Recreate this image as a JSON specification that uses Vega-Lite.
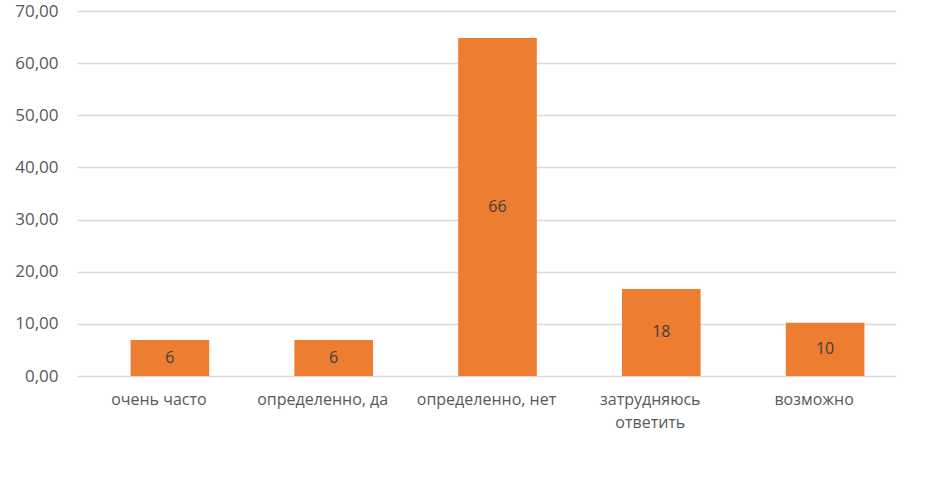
{
  "$schema": "https://vega.github.io/schema/vega-lite/v6.json",
  "width": 819,
  "height": 365,
  "autosize": "none",
  "padding": {"left": 77, "top": 11, "right": 42, "bottom": 111},
  "background": "white",
  "data": {
    "values": [
      {"category": "очень часто", "value": 6.9, "label": "6"},
      {"category": "определенно, да", "value": 6.9, "label": "6"},
      {"category": "определенно, нет", "value": 64.8, "label": "66"},
      {"category": "затрудняюсь ответить", "value": 16.7, "label": "18"},
      {"category": "возможно", "value": 10.2, "label": "10"}
    ]
  },
  "encoding": {
    "x": {
      "field": "category",
      "type": "nominal",
      "sort": null,
      "scale": {"paddingInner": 0.52, "paddingOuter": 0.26},
      "axis": {
        "title": null,
        "labelAngle": 0,
        "domain": false,
        "ticks": false,
        "labelPadding": 15,
        "labelFont": "Open Sans",
        "labelFontSize": 16,
        "labelColor": "#595959",
        "labelLineHeight": 23,
        "labelExpr": "datum.label == 'затрудняюсь ответить' ? ['затрудняюсь', 'ответить'] : datum.label"
      }
    }
  },
  "layer": [
    {
      "mark": {"type": "bar", "color": "#ED7D31", "xOffset": 11},
      "encoding": {
        "y": {
          "field": "value",
          "type": "quantitative",
          "scale": {"domain": [0, 70], "nice": false},
          "axis": {
            "title": null,
            "values": [0, 10, 20, 30, 40, 50, 60, 70],
            "domain": false,
            "ticks": false,
            "labelPadding": 19,
            "labelFont": "Open Sans",
            "labelFontSize": 17,
            "labelColor": "#595959",
            "gridColor": "#d9d9d9",
            "gridWidth": 1.3,
            "labelExpr": "replace(format(datum.value, '.2f'), '.', ',')"
          }
        }
      }
    },
    {
      "mark": {"type": "text", "font": "Open Sans", "fontSize": 16, "color": "#404040", "baseline": "middle", "xOffset": 11},
      "encoding": {
        "y": {
          "field": "value",
          "type": "quantitative",
          "scale": {"domain": [0, 140], "nice": false},
          "axis": null
        },
        "text": {"field": "label"}
      }
    }
  ],
  "resolve": {"scale": {"y": "independent"}},
  "config": {"view": {"stroke": null}}
}
